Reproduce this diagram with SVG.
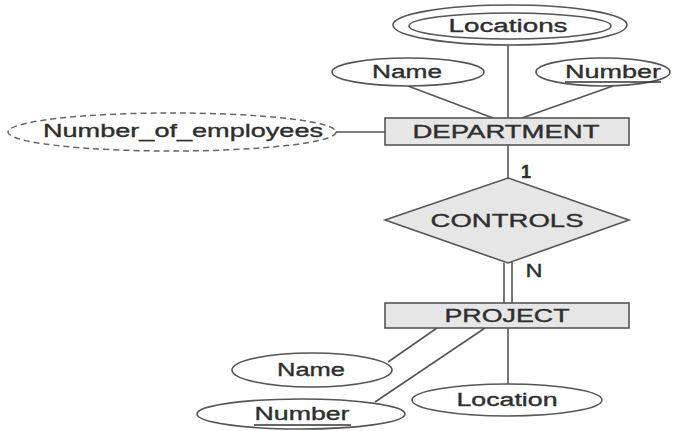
<svg xmlns="http://www.w3.org/2000/svg" width="685" height="431" viewBox="0 0 685 431">
<style>
.sh{fill:#fff;stroke:#555;stroke-width:1.6}
.ent{fill:#e6e6e6;stroke:#555;stroke-width:1.6}
.ln{stroke:#555;stroke-width:1.6;fill:none}
.t{font-family:"Liberation Sans",Arial,sans-serif;font-size:18px;fill:#2e2e2e;stroke:#2e2e2e;stroke-width:0.35;text-anchor:middle}
.u{stroke:#333;stroke-width:1.3}
</style>
<rect width="685" height="431" fill="#fff"/>
<g id="connectors">
<line class="ln" x1="508" y1="45" x2="508" y2="118"/>
<line class="ln" x1="408" y1="86" x2="493" y2="118"/>
<line class="ln" x1="613" y1="86" x2="522" y2="118"/>
<line class="ln" x1="336" y1="132" x2="385" y2="132"/>
<line class="ln" x1="508" y1="145" x2="508" y2="178"/>
<line class="ln" x1="504" y1="263" x2="504" y2="303"/>
<line class="ln" x1="512" y1="261" x2="512" y2="303"/>
<line class="ln" x1="388" y1="362" x2="437" y2="328"/>
<line class="ln" x1="375" y1="402" x2="485" y2="328"/>
<line class="ln" x1="508" y1="328" x2="508" y2="384"/>
<text class="t" x="526" y="178" font-size="15" font-weight="bold">1</text>
<text class="t" x="534" y="277" textLength="17" lengthAdjust="spacingAndGlyphs">N</text>
</g>
<g id="locations">
<ellipse class="sh" cx="510" cy="25" rx="117" ry="20"/>
<ellipse class="sh" cx="510" cy="26" rx="101" ry="13"/>
<text class="t" x="508" y="32" textLength="119" lengthAdjust="spacingAndGlyphs">Locations</text>
</g>
<g id="dept-name">
<ellipse class="sh" cx="408" cy="72" rx="76" ry="14"/>
<text class="t" x="407" y="78" textLength="70" lengthAdjust="spacingAndGlyphs">Name</text>
</g>
<g id="dept-number">
<ellipse class="sh" cx="603" cy="72" rx="67" ry="14"/>
<text class="t" x="613" y="78" textLength="96" lengthAdjust="spacingAndGlyphs">Number</text>
<line class="u" x1="565" y1="82" x2="661" y2="82"/>
</g>
<g id="number-of-employees">
<ellipse cx="172" cy="132" rx="164" ry="19" fill="#fff" stroke="#666" stroke-width="1.5" stroke-dasharray="6,4"/>
<text class="t" x="183" y="137" textLength="280" lengthAdjust="spacingAndGlyphs">Number_of_employees</text>
</g>
<g id="department">
<rect class="ent" x="385" y="118" width="244" height="27"/>
<text class="t" x="506" y="138" textLength="187" lengthAdjust="spacingAndGlyphs">DEPARTMENT</text>
</g>
<g id="controls">
<polygon class="ent" points="508,178 629,220 508,263 385,220"/>
<text class="t" x="507" y="227" textLength="153" lengthAdjust="spacingAndGlyphs">CONTROLS</text>
</g>
<g id="project">
<rect class="ent" x="385" y="303" width="244" height="25"/>
<text class="t" x="507" y="322" textLength="125" lengthAdjust="spacingAndGlyphs">PROJECT</text>
</g>
<g id="proj-name">
<ellipse class="sh" cx="312" cy="370" rx="80" ry="17"/>
<text class="t" x="311" y="376" textLength="68" lengthAdjust="spacingAndGlyphs">Name</text>
</g>
<g id="proj-number">
<ellipse class="sh" cx="301" cy="414" rx="104" ry="15"/>
<text class="t" x="302" y="420" textLength="95" lengthAdjust="spacingAndGlyphs">Number</text>
<line class="u" x1="254" y1="425" x2="351" y2="425"/>
</g>
<g id="proj-location">
<ellipse class="sh" cx="507" cy="400" rx="95" ry="16"/>
<text class="t" x="507" y="406" textLength="101" lengthAdjust="spacingAndGlyphs">Location</text>
</g>
</svg>
